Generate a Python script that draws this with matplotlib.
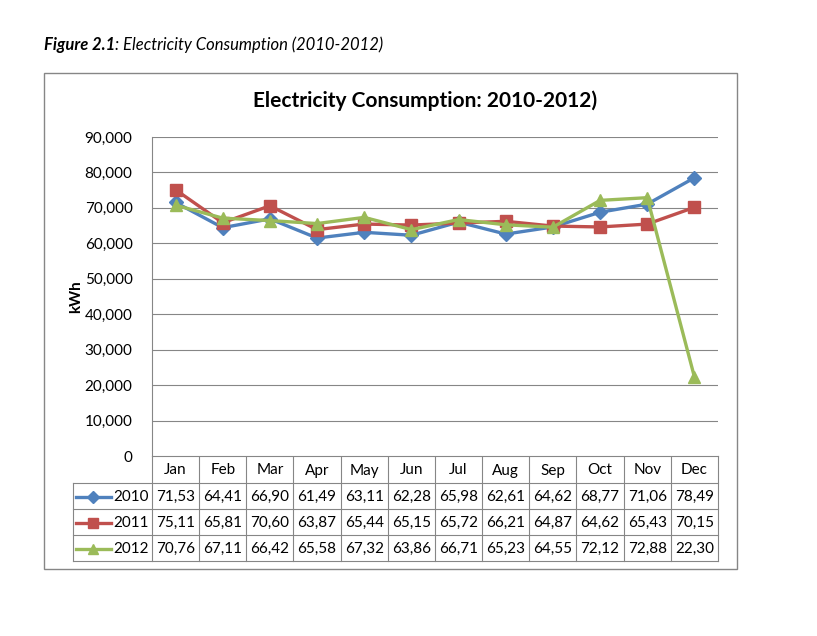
import numpy as np
import matplotlib.pyplot as plt
from matplotlib.patches import Rectangle

plt.rcParams['font.family'] = ['Lato', 'DejaVu Sans']

# Dane
months = ["Jan", "Feb", "Mar", "Apr", "May", "Jun", "Jul", "Aug", "Sep", "Oct", "Nov", "Dec"]
years = ["2010", "2011", "2012"]
kwh_2010 = [71530, 64410, 66900, 61490, 63110, 62280, 65980, 62610, 64620, 68770, 71060, 78490]
kwh_2011 = [75110, 65810, 70600, 63870, 65440, 65150, 65720, 66210, 64870, 64620, 65430, 70150]
kwh_2012 = [70760, 67110, 66420, 65580, 67320, 63860, 66710, 65230, 64550, 72120, 72880, 22300]
series = [kwh_2010, kwh_2011, kwh_2012]
colors = ["#4F81BD", "#C0504D", "#9BBB59"]
markers = ["D", "s", "^"]
msizes = [7, 8, 9]

W, H = 817, 636
fig = plt.figure(figsize=(W / 100, H / 100), dpi=100)

# warstwa w pikselach: ramka, podpis, tabela
bg = fig.add_axes([0, 0, 1, 1])
bg.set_xlim(0, W)
bg.set_ylim(H, 0)
bg.axis("off")

bg.add_patch(Rectangle((44, 73), 693, 496, fill=False, ec="#868686", lw=1))
t1 = bg.text(44, 45, "Figure 2.1", fontsize=12, fontweight="bold", style="italic", va="center")
bg.annotate(": Electricity Consumption (2010-2012)", xy=(1, 0.5), xycoords=t1,
            fontsize=12, style="italic", va="center")
bg.text(425, 101, "Electricity Consumption: 2010-2012)", fontsize=15, fontweight="bold",
        ha="center", va="center")
bg.text(76, 297, "kWh", fontsize=11, fontweight="bold", rotation=90, ha="center", va="center")

# Wykres
x0, x1, y0, y1 = 152, 718, 456, 137
ax = fig.add_axes([x0 / W, 1 - y0 / H, (x1 - x0) / W, (y0 - y1) / H])
xs = np.arange(len(months))
for vals, c, m, ms in zip(series, colors, markers, msizes):
    ax.plot(xs, vals, color=c, lw=2.4, marker=m, ms=ms, zorder=3)
ax.set_xlim(-0.5, 11.5)
ax.set_ylim(0, 90000)
ax.set_yticks(np.arange(0, 90001, 10000))
ax.set_yticklabels([f"{v:,}" for v in range(0, 90001, 10000)], fontsize=11)
ax.set_xticks([])
ax.tick_params(axis="y", length=0, pad=14)
ax.grid(axis="y", color="#868686", lw=0.8)
for s in ["top", "right", "bottom"]:
    ax.spines[s].set_visible(False)
ax.spines["left"].set_color("#868686")
ax.spines["left"].set_linewidth(0.8)

# Tabela danych
cw = (x1 - x0) / 12
rows = [456, 483, 509, 535, 561]
lc = "#868686"
for i in range(13):
    bg.plot([x0 + i * cw] * 2, [rows[0], rows[-1]], color=lc, lw=0.8)
bg.plot([x0, x1], [rows[0], rows[0]], color=lc, lw=0.8)
for r in rows[1:]:
    bg.plot([73, x1], [r, r], color=lc, lw=0.8)
bg.plot([73, 73], [rows[1], rows[-1]], color=lc, lw=0.8)
for i, mth in enumerate(months):
    bg.text(x0 + (i + 0.5) * cw, (rows[0] + rows[1]) / 2 + 1, mth, fontsize=11, ha="center", va="center")
for j, (vals, c, m, ms, yr) in enumerate(zip(series, colors, markers, msizes, years)):
    yc = (rows[j + 1] + rows[j + 2]) / 2 + 1
    bg.plot([76, 111], [yc, yc], color=c, lw=2.4)
    bg.plot([93.5], [yc], color=c, marker=m, ms=ms * 0.85)
    bg.text(113, yc, yr, fontsize=11, ha="left", va="center")
    for i, v in enumerate(vals):
        lab = f"{v / 1000:.2f}".replace(".", ",")
        bg.text(x0 + (i + 0.5) * cw, yc, lab, fontsize=11, ha="center", va="center")

fig.savefig("out.png", dpi=100)
